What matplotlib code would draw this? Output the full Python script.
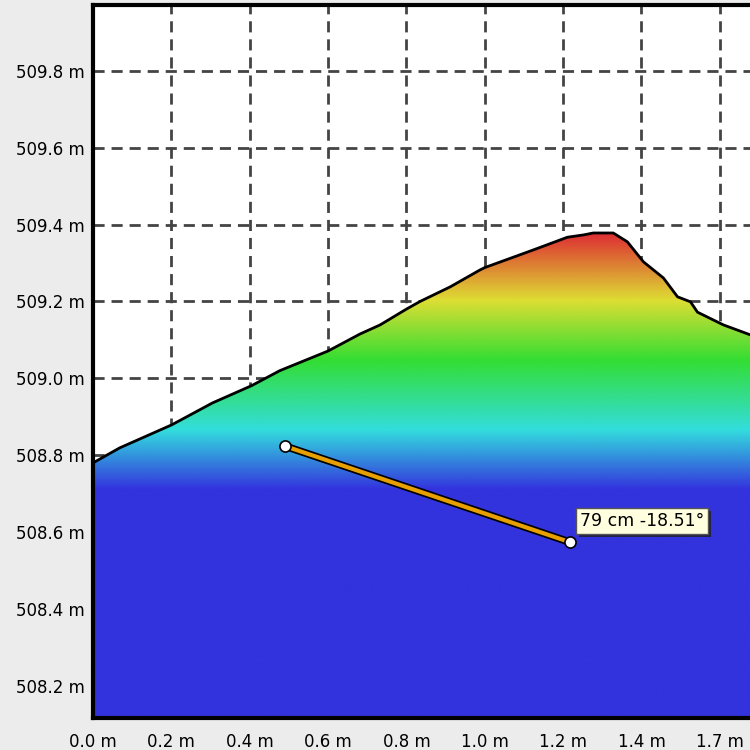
import numpy as np
import matplotlib
matplotlib.use("Agg")
import matplotlib.pyplot as plt
from matplotlib.colors import LinearSegmentedColormap, Normalize
import matplotlib.patheffects as pe

# ---- data ----
dist_m = [0.000, 0.068, 0.201, 0.305, 0.405, 0.477, 0.600, 0.681, 0.733, 0.800,
          0.835, 0.912, 0.988, 1.000, 1.124, 1.211, 1.252, 1.277, 1.328, 1.364,
          1.405, 1.456, 1.492, 1.525, 1.543, 1.609, 1.678]
elev_m = [508.780, 508.819, 508.879, 508.936, 508.981, 509.020, 509.071, 509.115, 509.139, 509.180,
          509.200, 509.238, 509.282, 509.288, 509.334, 509.367, 509.373, 509.378, 509.378, 509.355,
          509.303, 509.261, 509.212, 509.199, 509.172, 509.139, 509.113]

x_ticks = [0.0, 0.2, 0.4, 0.6, 0.8, 1.0, 1.2, 1.4, 1.6]
x_tick_labels = ["0.0 m", "0.2 m", "0.4 m", "0.6 m", "0.8 m", "1.0 m", "1.2 m", "1.4 m", "1.7 m"]
y_ticks = [508.2, 508.4, 508.6, 508.8, 509.0, 509.2, 509.4, 509.6, 509.8]
y_tick_labels = ["508.2 m", "508.4 m", "508.6 m", "508.8 m", "509.0 m",
                 "509.2 m", "509.4 m", "509.6 m", "509.8 m"]

measure_x = [0.489, 1.217]
measure_y = [508.824, 508.574]
measure_label = "79 cm -18.51°"

color_levels = [508.71, 508.865, 509.047, 509.204, 509.373]
color_stops = ["#3333dd", "#33dddd", "#33dd33", "#dddd33", "#dd3333"]

xlim = (0.0, 1.677)
ylim = (508.1165, 509.971)

# ---- figure ----
fig = plt.figure(figsize=(7.5, 7.5), dpi=100, facecolor="#ececec")
ax = fig.add_axes([93 / 750, 32 / 750, 657 / 750, 713 / 750])
ax.set_facecolor("white")
ax.set_xlim(*xlim)
ax.set_ylim(*ylim)

# grid
ax.set_xticks(x_ticks)
ax.set_xticklabels(x_tick_labels)
ax.set_yticks(y_ticks)
ax.set_yticklabels(y_tick_labels)
ax.grid(True, color="#444444", linestyle=(0, (4, 2.5)), linewidth=2)
ax.set_axisbelow(True)
ax.tick_params(length=0, labelsize=12, colors="black")
ax.tick_params(axis="y", pad=6)
ax.tick_params(axis="x", pad=11)

# gradient fill under profile
lo, hi = color_levels[0], color_levels[-1]
pos = [(v - lo) / (hi - lo) for v in color_levels]
cmap = LinearSegmentedColormap.from_list("elev", list(zip(pos, color_stops)))
yy = np.linspace(ylim[0], ylim[1], 600)[:, None]
grad = np.repeat(yy, 2, axis=1)
poly = ax.fill_between(dist_m, elev_m, ylim[0], color="none", lw=0, zorder=2)
im = ax.imshow(grad, extent=[xlim[0], xlim[1], ylim[0], ylim[1]], origin="lower",
               aspect="auto", cmap=cmap, norm=Normalize(lo, hi), zorder=2,
               interpolation="bilinear")
im.set_clip_path(poly.get_paths()[0], transform=ax.transData)

ax.plot(dist_m, elev_m, color="black", lw=2.0, zorder=3)

# measurement line
ax.plot(measure_x, measure_y, color="#e8a000", lw=3, zorder=4,
        path_effects=[pe.Stroke(linewidth=5.5, foreground="black"), pe.Normal()])
ax.plot(measure_x, measure_y, linestyle="none", marker="o", markersize=8,
        markerfacecolor="white", markeredgecolor="black", markeredgewidth=1.2, zorder=5)

# label with shadow
t = ax.annotate(measure_label, xy=(measure_x[1], measure_y[1]), xytext=(10, 12),
                textcoords="offset pixels", ha="left", va="bottom", fontsize=12.5,
                color="black", zorder=6,
                bbox=dict(boxstyle="square,pad=0.22", fc="#ffffe0", ec="#555555", lw=1))
t.get_bbox_patch().set_path_effects([
    pe.SimplePatchShadow(offset=(2, -2), shadow_rgbFace="#222244", alpha=1.0),
    pe.Normal()])

for s in ["left", "top", "bottom"]:
    ax.spines[s].set_linewidth(3)
    ax.spines[s].set_color("black")
ax.spines["right"].set_visible(False)

fig.savefig("out.png", dpi=100, facecolor=fig.get_facecolor())
